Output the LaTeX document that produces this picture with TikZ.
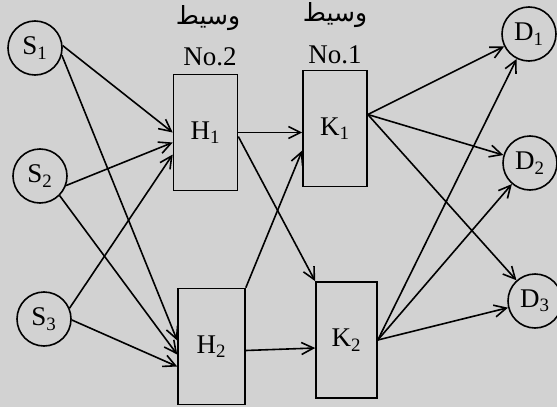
\documentclass[tikz,border=0pt]{standalone}
\usepackage{fontspec}
\setmainfont{Liberation Serif}
\newfontfamily\arabicfont[Script=Arabic]{DejaVu Sans}
\TeXXeTstate=1
\usetikzlibrary{arrows.meta}

\begin{document}
\begin{tikzpicture}[x=0.5pt, y=-0.5pt, line width=0.8pt,
   font=\fontsize{13.5}{15}\selectfont,
   src/.style={draw, circle, minimum size=27pt, inner sep=0pt},
   box/.style={draw, minimum width=32pt, minimum height=58pt, inner sep=0pt},
   arr/.style={-{Straight Barb[length=6pt, width=6pt]}}]

   \useasboundingbox[fill=gray!35] (0,0) rectangle (557,407);

   \node[src] (S1) at (35,48)  {S\textsubscript{1}};
   \node[src] (S2) at (40,176) {S\textsubscript{2}};
   \node[src] (S3) at (44,319) {S\textsubscript{3}};

   \node[box] (H1) at (205.5,132.5) {H\textsubscript{1}};
   \node[box, minimum width=33.5pt] (H2) at (211.5,346.5) {H\textsubscript{2}};
   \node[box] (K1) at (335,128.5) {K\textsubscript{1}};
   \node[box, minimum width=30.5pt] (K2) at (346.5,340) {K\textsubscript{2}};

   \node[src] (D1) at (529,34)  {D\textsubscript{1}};
   \node[src] (D2) at (530,163) {D\textsubscript{2}};
   \node[src] (D3) at (535,301) {D\textsubscript{3}};

   \node (w2) at (208,18) {\arabicfont\fontsize{12.5}{14}\selectfont\beginR وسيط\endR};
   \node (w1) at (335,15) {\arabicfont\fontsize{12.5}{14}\selectfont\beginR وسيط\endR};
   \node (n2) at (210,57) {No.2};
   \node (n1) at (335,55) {No.1};

   \draw[arr] (S1.5) -- (H1.west);
   \draw[arr] (S1.-15) -- ([yshift=3pt]H2.west);
   \draw[arr] (S2.-20) -- ([yshift=-5pt]H1.west);
   \draw[arr] (S2.-45) -- ([yshift=-4pt]H2.west);
   \draw[arr] (S3.23) -- ([yshift=-11pt]H1.west);
   \draw[arr] (S3.-2) -- ([yshift=-10pt]H2.west);

   \draw[arr] (H1.east) -- ([yshift=-2pt]K1.west);
   \draw[arr] ([yshift=-2pt]H1.east) -- (K2.north west);
   \draw[arr] (H2.north east) -- ([yshift=-11pt]K1.west);
   \draw[arr] ([yshift=-2pt]H2.east) -- ([yshift=-4pt]K2.west);

   \draw[arr] ([yshift=7pt]K1.east) -- (D1);
   \draw[arr] ([yshift=7pt]K1.east) -- (D2);
   \draw[arr] ([yshift=7pt]K1.east) -- (D3);
   \draw[arr] (K2.east) -- (D1);
   \draw[arr] (K2.east) -- (D2);
   \draw[arr] (K2.east) -- (D3);

\end{tikzpicture}
\end{document}
